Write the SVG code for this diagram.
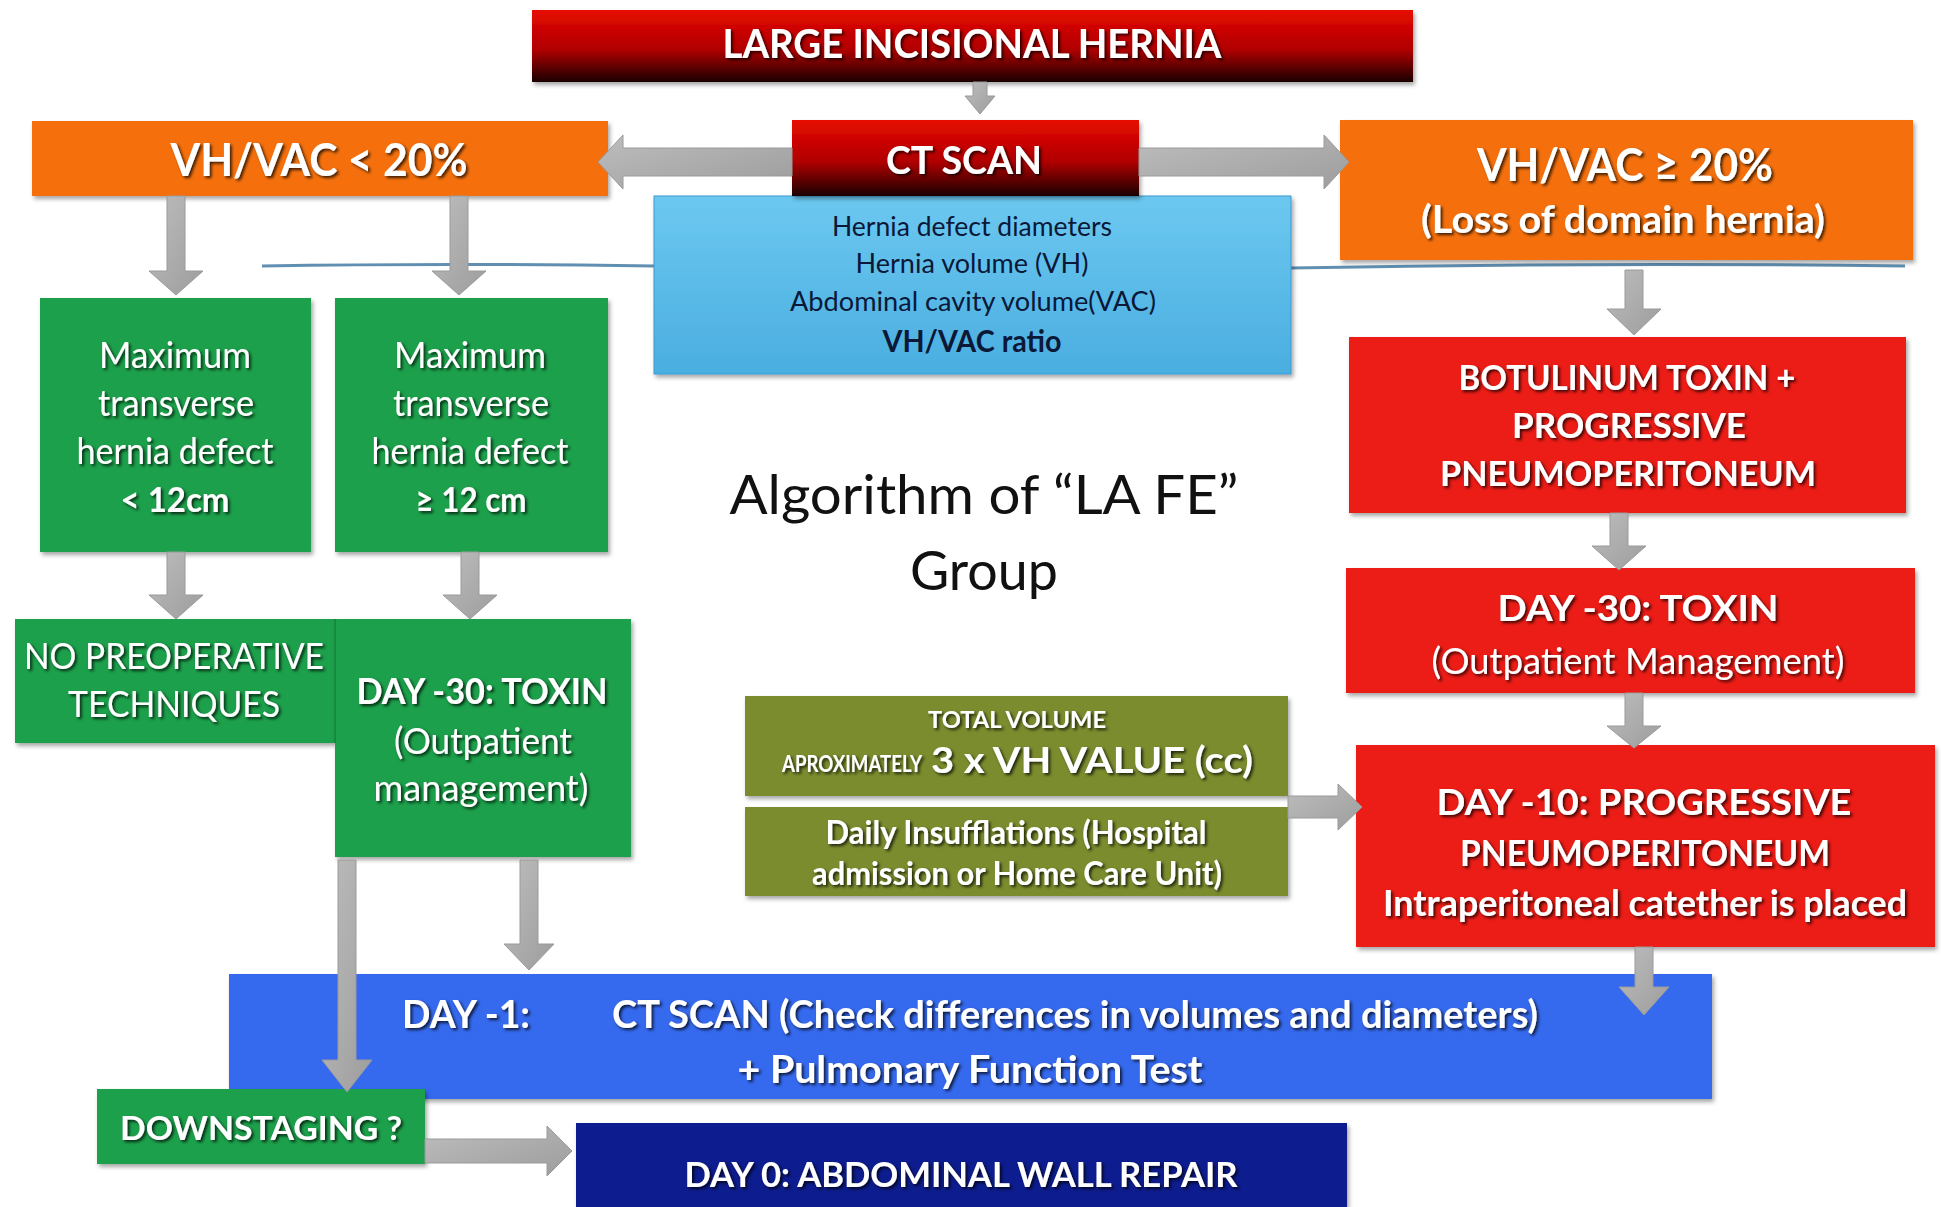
<svg xmlns="http://www.w3.org/2000/svg" width="1941" height="1207" viewBox="0 0 1941 1207">
<style>
text{font-family:Lato,"Open Sans","Liberation Sans",sans-serif;text-anchor:middle}
.w{fill:#fff;filter:url(#ts)}
.b{font-weight:700}
.dk{fill:#0b1838}
.arr{fill:url(#ag);stroke:#9a9a9a;stroke-width:1}
.box{filter:url(#bs)}
.green{fill:#1fa04c}
.orange{fill:#f5700f}
.red{fill:#ec1a16}
.olive{fill:#7a8c2f}
</style>
<defs>
<filter id="ts" x="-10%" y="-30%" width="120%" height="160%"><feDropShadow dx="2" dy="2" stdDeviation="1.4" flood-color="#000" flood-opacity="0.75"/></filter>
<filter id="bs" x="-5%" y="-10%" width="110%" height="125%"><feDropShadow dx="2" dy="3" stdDeviation="2" flood-color="#000" flood-opacity="0.35"/></filter>
<linearGradient id="rg" x1="0" y1="0" x2="0" y2="1"><stop offset="0" stop-color="#e60a00"/><stop offset="0.55" stop-color="#b00000"/><stop offset="1" stop-color="#1a0000"/></linearGradient>
<linearGradient id="lb" x1="0" y1="0" x2="0" y2="1"><stop offset="0" stop-color="#6cc8f0"/><stop offset="1" stop-color="#4aaee0"/></linearGradient>
<linearGradient id="ag" x1="0" y1="0" x2="1" y2="1"><stop offset="0" stop-color="#bdbdbd"/><stop offset="1" stop-color="#9d9d9d"/></linearGradient>
</defs>
<rect width="1941" height="1207" fill="#fff"/>
<g id="divider-line" stroke="#2b6a98" stroke-width="3" opacity="0.75" fill="none">
<path d="M262 266 Q450 263 654 266"/>
<path d="M1291 268 Q1600 262 1905 266"/>
</g>
<g id="nodes">
<g id="large-incisional-hernia"><rect class="box" x="532" y="10" width="881" height="72" fill="url(#rg)"/><text class="w b" x="972" y="58" font-size="40" textLength="499" lengthAdjust="spacingAndGlyphs">LARGE INCISIONAL HERNIA</text></g>
<g id="ct-info"><rect class="box" x="654" y="196" width="637" height="178" fill="url(#lb)" stroke="#3a9ad0" stroke-width="1"/>
<text class="dk" x="972" y="236" font-size="27" textLength="280" lengthAdjust="spacingAndGlyphs">Hernia defect diameters</text>
<text class="dk" x="972" y="273" font-size="27" textLength="233" lengthAdjust="spacingAndGlyphs">Hernia  volume (VH)</text>
<text class="dk" x="973" y="311" font-size="27" textLength="366" lengthAdjust="spacingAndGlyphs">Abdominal cavity  volume(VAC)</text>
<text class="dk b" x="972" y="352" font-size="31" textLength="179" lengthAdjust="spacingAndGlyphs">VH/VAC ratio</text></g>
<g id="ct-scan"><rect class="box" x="792" y="120" width="347" height="76" fill="url(#rg)"/><text class="w b" x="964" y="174" font-size="38" textLength="156" lengthAdjust="spacingAndGlyphs">CT SCAN</text></g>
<g id="vhvac-low"><rect class="box orange" x="32" y="121" width="576" height="75"/><text class="w b" x="319" y="176" font-size="46" textLength="297" lengthAdjust="spacingAndGlyphs">VH/VAC &lt; 20%</text></g>
<g id="vhvac-high"><rect class="box orange" x="1340" y="120" width="573" height="140"/>
<text class="w b" x="1625" y="181" font-size="46" textLength="296" lengthAdjust="spacingAndGlyphs">VH/VAC ≥ 20%</text>
<text class="w b" x="1623" y="233" font-size="38" textLength="404" lengthAdjust="spacingAndGlyphs">(Loss of domain hernia)</text></g>
<g id="defect-small"><rect class="box green" x="40" y="298" width="271" height="254"/>
<text class="w" x="175" y="368" font-size="37" textLength="152" lengthAdjust="spacingAndGlyphs">Maximum</text>
<text class="w" x="176" y="416" font-size="37" textLength="156" lengthAdjust="spacingAndGlyphs">transverse</text>
<text class="w" x="175" y="464" font-size="37" textLength="197" lengthAdjust="spacingAndGlyphs">hernia defect</text>
<text class="w b" x="175" y="512" font-size="34" textLength="109" lengthAdjust="spacingAndGlyphs">&lt; 12cm</text></g>
<g id="defect-large"><rect class="box green" x="335" y="298" width="273" height="254"/>
<text class="w" x="470" y="368" font-size="37" textLength="152" lengthAdjust="spacingAndGlyphs">Maximum</text>
<text class="w" x="471" y="416" font-size="37" textLength="156" lengthAdjust="spacingAndGlyphs">transverse</text>
<text class="w" x="470" y="464" font-size="37" textLength="197" lengthAdjust="spacingAndGlyphs">hernia defect</text>
<text class="w b" x="471" y="512" font-size="34" textLength="111" lengthAdjust="spacingAndGlyphs">≥ 12 cm</text></g>
<g id="no-preoperative"><rect class="box green" x="15" y="619" width="320" height="124"/>
<text class="w" x="174" y="669" font-size="36" textLength="300" lengthAdjust="spacingAndGlyphs">NO PREOPERATIVE</text>
<text class="w" x="174" y="717" font-size="36" textLength="212" lengthAdjust="spacingAndGlyphs">TECHNIQUES</text></g>
<g id="toxin-left"><rect class="box green" x="335" y="619" width="296" height="238"/>
<line x1="335" y1="619" x2="335" y2="743" stroke="#178a3e" stroke-width="2"/>
<text class="w b" x="482" y="704" font-size="36" textLength="251" lengthAdjust="spacingAndGlyphs">DAY -30: TOXIN</text>
<text class="w" x="483" y="754" font-size="36" textLength="178" lengthAdjust="spacingAndGlyphs">(Outpatient</text>
<text class="w" x="481" y="801" font-size="36" textLength="215" lengthAdjust="spacingAndGlyphs">management)</text></g>
<g id="algorithm-title">
<text x="984" y="514" font-size="54" fill="#111" textLength="509" lengthAdjust="spacingAndGlyphs">Algorithm of “LA FE”</text>
<text x="984" y="590" font-size="54" fill="#111" textLength="148" lengthAdjust="spacingAndGlyphs">Group</text></g>
<g id="botulinum"><rect class="box red" x="1349" y="337" width="557" height="176"/>
<text class="w b" x="1627" y="390" font-size="35" textLength="337" lengthAdjust="spacingAndGlyphs">BOTULINUM TOXIN +</text>
<text class="w b" x="1629" y="438" font-size="35" textLength="234" lengthAdjust="spacingAndGlyphs">PROGRESSIVE</text>
<text class="w b" x="1628" y="486" font-size="35" textLength="376" lengthAdjust="spacingAndGlyphs">PNEUMOPERITONEUM</text></g>
<g id="toxin-right"><rect class="box red" x="1346" y="568" width="569" height="125"/>
<text class="w b" x="1638" y="621" font-size="36" textLength="281" lengthAdjust="spacingAndGlyphs">DAY -30:   TOXIN</text>
<text class="w" x="1638" y="674" font-size="36" textLength="413" lengthAdjust="spacingAndGlyphs">(Outpatient Management)</text></g>
<g id="total-volume"><rect class="box olive" x="745" y="696" width="543" height="100"/>
<text class="w b" x="1017" y="728" font-size="22" textLength="178" lengthAdjust="spacingAndGlyphs">TOTAL VOLUME</text>
<text class="w b" x="852" y="772" font-size="22" textLength="140" lengthAdjust="spacingAndGlyphs">APROXIMATELY</text>
<text class="w b" x="1092" y="773" font-size="36" textLength="322" lengthAdjust="spacingAndGlyphs">3 x VH VALUE (cc)</text></g>
<g id="daily-insufflations"><rect class="box olive" x="745" y="807" width="543" height="89"/>
<text class="w b" x="1016" y="844" font-size="32" textLength="381" lengthAdjust="spacingAndGlyphs">Daily Insufflations (Hospital</text>
<text class="w b" x="1017" y="885" font-size="32" textLength="410" lengthAdjust="spacingAndGlyphs">admission or Home Care Unit)</text></g>
<g id="pneumoperitoneum"><rect class="box red" x="1356" y="745" width="579" height="202"/>
<text class="w b" x="1644" y="815" font-size="37" textLength="415" lengthAdjust="spacingAndGlyphs">DAY -10:   PROGRESSIVE</text>
<text class="w b" x="1645" y="866" font-size="37" textLength="370" lengthAdjust="spacingAndGlyphs">PNEUMOPERITONEUM</text>
<text class="w b" x="1645" y="916" font-size="37" textLength="524" lengthAdjust="spacingAndGlyphs">Intraperitoneal  catether is placed</text></g>
<g id="day-minus-1"><rect class="box" x="229" y="974" width="1483" height="125" fill="#3569ee"/>
<text class="w b" x="466" y="1028" font-size="38" textLength="128" lengthAdjust="spacingAndGlyphs">DAY -1:</text>
<text class="w b" x="1075" y="1028" font-size="38" textLength="926" lengthAdjust="spacingAndGlyphs">CT SCAN  (Check differences in volumes and diameters)</text>
<text class="w b" x="970" y="1083" font-size="38" textLength="465" lengthAdjust="spacingAndGlyphs">+ Pulmonary Function Test</text></g>
<g id="downstaging"><rect class="box green" x="97" y="1089" width="328" height="75"/>
<text class="w b" x="261" y="1140" font-size="33" textLength="282" lengthAdjust="spacingAndGlyphs">DOWNSTAGING ?</text></g>
<g id="day-0"><rect class="box" x="576" y="1123" width="771" height="84" fill="#0c1c8e"/>
<text class="w b" x="961" y="1187" font-size="35" textLength="553" lengthAdjust="spacingAndGlyphs">DAY 0: ABDOMINAL WALL REPAIR</text></g>
</g>
<g id="connectors">
<path class="arr" d="M973 82 h14 v14 h8 l-15 18 l-15 -18 h8 z"/>
<path class="arr" d="M792 148 h-169 v-13 l-25 27 l25 27 v-13 h169 z"/>
<path class="arr" d="M1139 148 h185 v-13 l25 27 l-25 27 v-13 h-185 z"/>
<path class="arr" d="M167 196 h18 v75 h18 l-27 24 l-27 -24 h18 z"/>
<path class="arr" d="M450 196 h18 v75 h18 l-27 24 l-27 -24 h18 z"/>
<path class="arr" d="M167 552 h18 v43 h18 l-27 24 l-27 -24 h18 z"/>
<path class="arr" d="M461 552 h18 v43 h18 l-27 24 l-27 -24 h18 z"/>
<path class="arr" d="M1625 270 h18 v39 h18 l-27 26 l-27 -26 h18 z"/>
<path class="arr" d="M1610 513 h18 v33 h18 l-27 24 l-27 -24 h18 z"/>
<path class="arr" d="M1625 693 h18 v33 h18 l-27 22 l-27 -22 h18 z"/>
<path class="arr" d="M1288 796 h50 v-12 l24 23 l-24 23 v-12 h-50 z"/>
<path class="arr" d="M338 860 h18 v200 h16 l-25 32 l-25 -32 h16 z"/>
<path class="arr" d="M520 860 h18 v84 h16 l-25 26 l-25 -26 h16 z"/>
<path class="arr" d="M1635 947 h18 v40 h16 l-25 28 l-25 -28 h16 z"/>
<path class="arr" d="M425 1139 h122 v-13 l25 25 l-25 25 v-13 h-122 z"/>
</g>
</svg>
